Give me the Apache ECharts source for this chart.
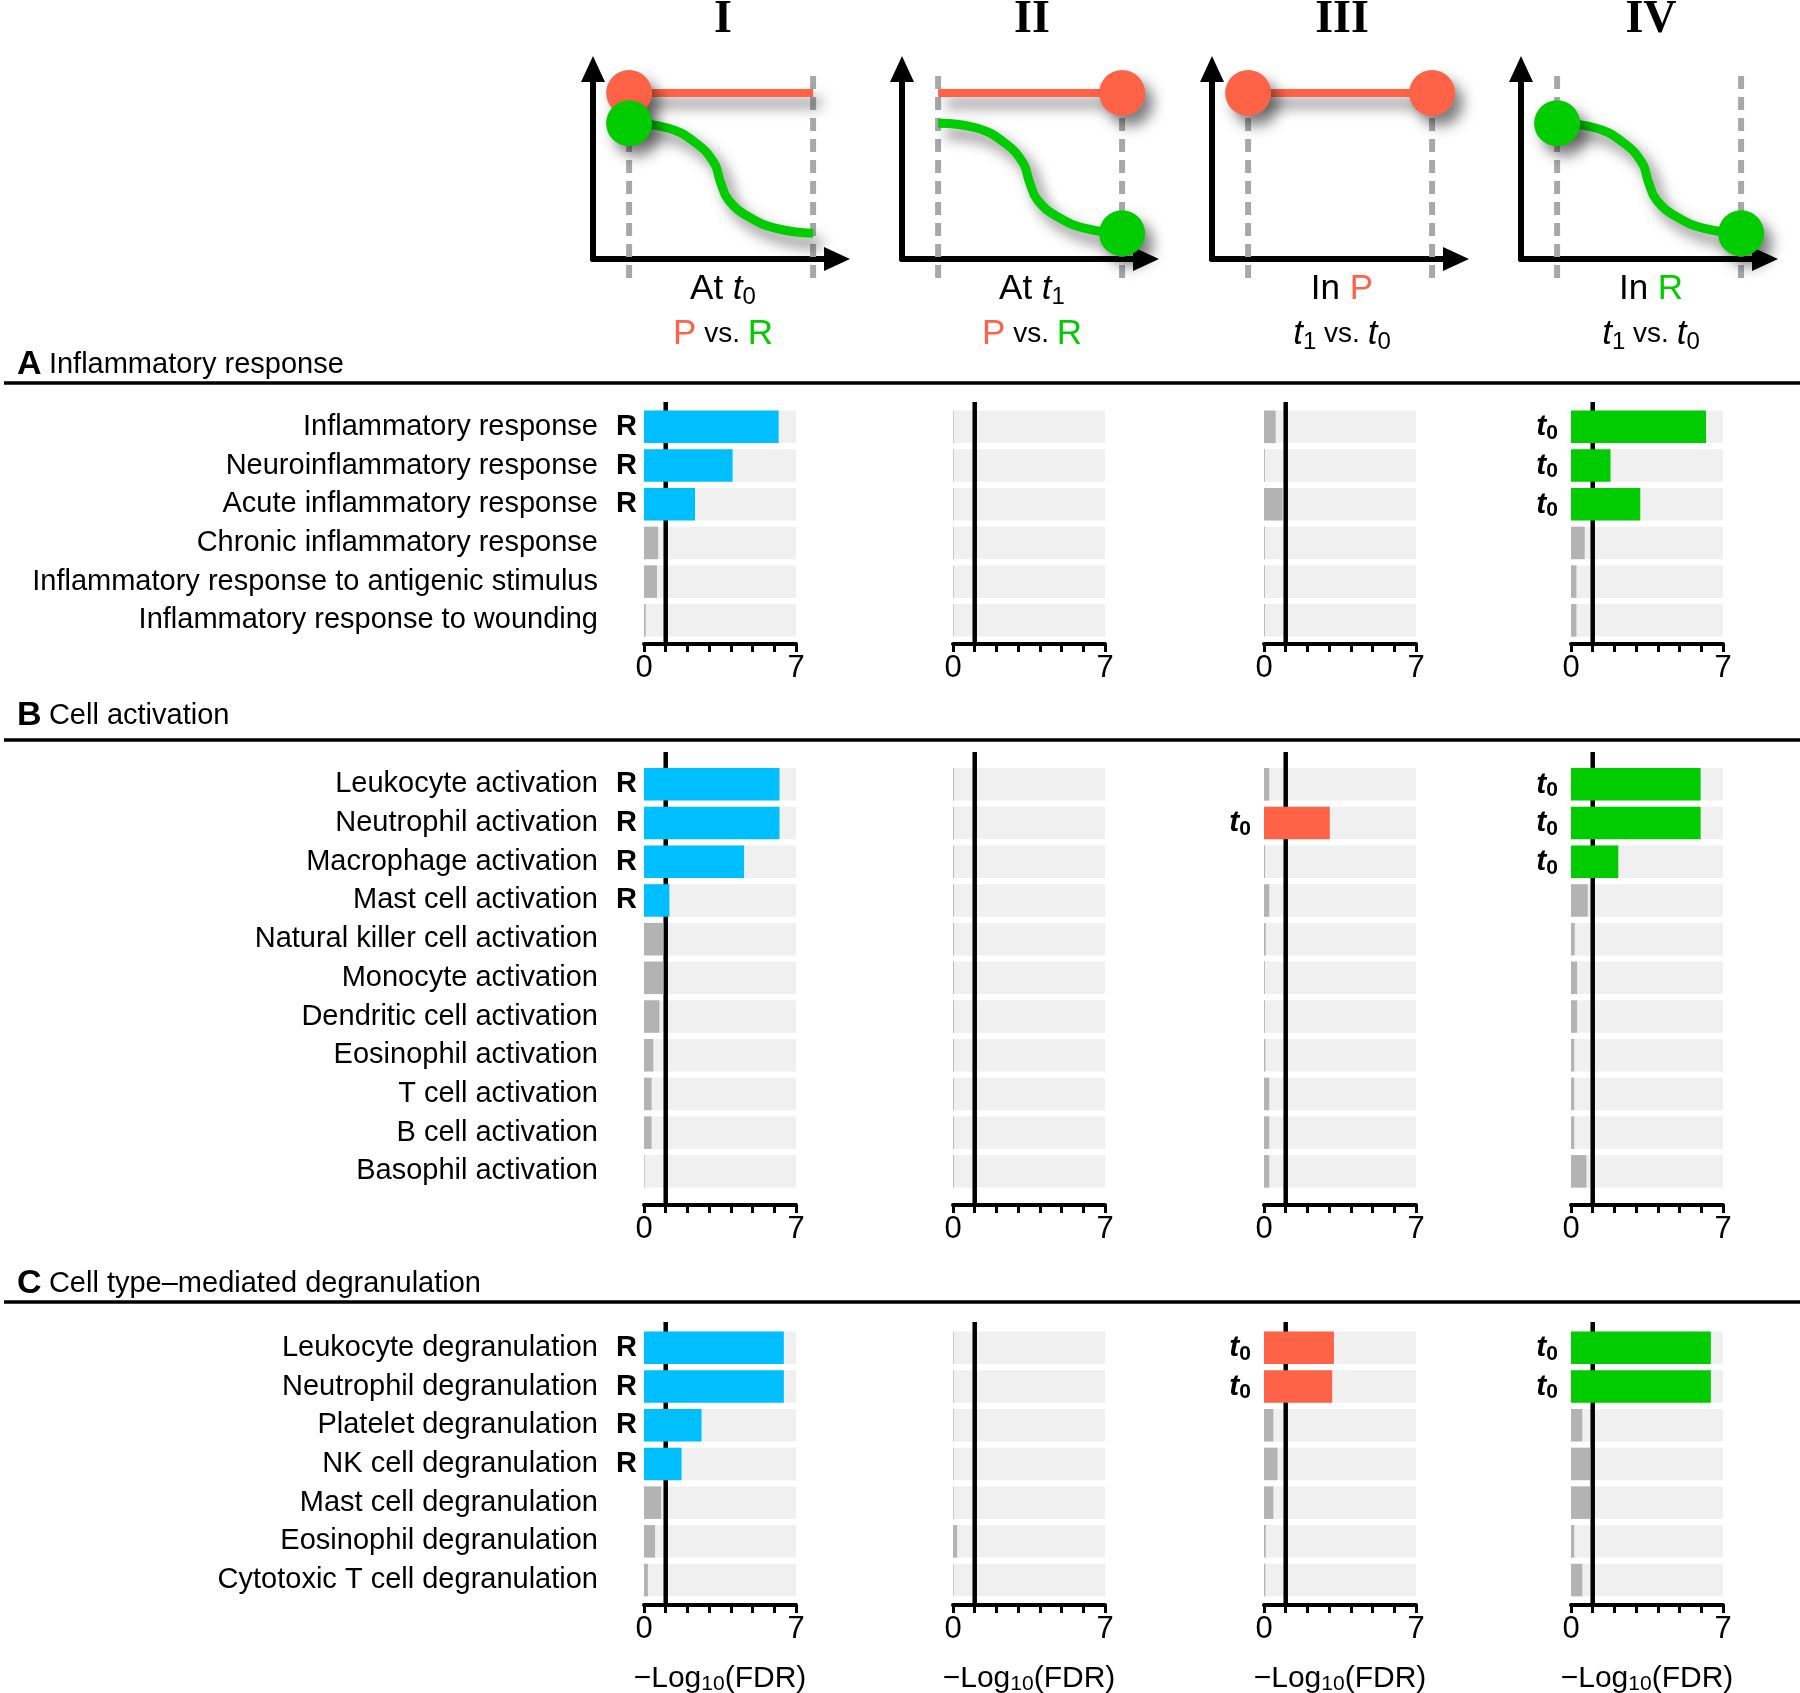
<!DOCTYPE html>
<html>
<head>
<meta charset="utf-8">
<script src="https://cdn.jsdelivr.net/npm/echarts@6/dist/echarts.min.js"></script>
<style>
html, body { margin: 0; padding: 0; background: #fff; }
#chart { width: 1800px; height: 1693px; }
</style>
</head>
<body>
<div id="chart"></div>
<script>
// GO terms per block
var termsA = ['Inflammatory response', 'Neuroinflammatory response', 'Acute inflammatory response',
  'Chronic inflammatory response', 'Inflammatory response to antigenic stimulus', 'Inflammatory response to wounding'];
var termsB = ['Leukocyte activation', 'Neutrophil activation', 'Macrophage activation', 'Mast cell activation',
  'Natural killer cell activation', 'Monocyte activation', 'Dendritic cell activation', 'Eosinophil activation',
  'T cell activation', 'B cell activation', 'Basophil activation'];
var termsC = ['Leukocyte degranulation', 'Neutrophil degranulation', 'Platelet degranulation', 'NK cell degranulation',
  'Mast cell degranulation', 'Eosinophil degranulation', 'Cytotoxic T cell degranulation'];

// -log10(FDR), columns I..IV
var A_I   = [6.2, 4.08, 2.35, 0.65, 0.6, 0.08];
var A_II  = [0.03, 0.03, 0.03, 0.03, 0.03, 0.03];
var A_III = [0.54, 0.04, 0.86, 0.04, 0.04, 0.04];
var A_IV  = [6.22, 1.82, 3.19, 0.63, 0.25, 0.25];

var B_I   = [6.24, 6.24, 4.61, 1.17, 0.89, 0.89, 0.71, 0.43, 0.35, 0.35, 0.03];
var B_II  = [0.04, 0.04, 0.04, 0.04, 0.04, 0.04, 0.04, 0.04, 0.04, 0.04, 0.04];
var B_III = [0.24, 3.03, 0.05, 0.24, 0.08, 0.04, 0.04, 0.06, 0.24, 0.24, 0.24];
var B_IV  = [5.97, 5.97, 2.18, 0.77, 0.17, 0.28, 0.28, 0.15, 0.15, 0.15, 0.71];

var C_I   = [6.44, 6.44, 2.65, 1.73, 0.79, 0.51, 0.18];
var C_II  = [0.03, 0.03, 0.03, 0.03, 0.03, 0.19, 0.03];
var C_III = [3.22, 3.14, 0.43, 0.62, 0.43, 0.08, 0.06];
var C_IV  = [6.44, 6.44, 0.52, 0.89, 0.89, 0.15, 0.52];

var axisTicks = [0, 7];
var FDR_CUT = 1;   // significance line

// schematic curves (unitless)
var schemeDashX = [0.148, 0.902];
var schemeDashY = [0.963, -0.126];
var redLevel = 0.874;
var greenCurve = [[0.148, 0.714], [0.309, 0.688], [0.423, 0.609], [0.497, 0.504], [0.522, 0.407],
  [0.555, 0.311], [0.637, 0.223], [0.751, 0.161], [0.902, 0.135]];

var FONT = '"Liberation Sans", Arial, sans-serif';
var RED = '#ff6347', GREEN = '#00cc00', BLUE = '#00bfff', GRAY = '#b3b3b3', BG = '#f0f0f0';
var PITCH = 38.7;
var colLeft = [644, 953, 1264, 1571];
var colWidth = 152;
var colColor = [BLUE, BLUE, RED, GREEN];
var sigLabel = ['R', '', '{t|t}{s|0}', '{t|t}{s|0}'];

var blocks = [
  {terms: termsA, vals: [A_I, A_II, A_III, A_IV], barTop: 407.5, axisTop: 402, axisBottom: 644},
  {terms: termsB, vals: [B_I, B_II, B_III, B_IV], barTop: 765, axisTop: 752, axisBottom: 1205},
  {terms: termsC, vals: [C_I, C_II, C_III, C_IV], barTop: 1328.5, axisTop: 1322, axisBottom: 1605, last: true}
];

var grid = [], xAxis = [], yAxis = [], series = [];

blocks.forEach(function (b) {
  for (var c = 0; c < 4; c++) {
    var g = grid.length;
    grid.push({left: colLeft[c], top: b.barTop, width: colWidth, height: b.terms.length * PITCH, outerBoundsMode: 'none'});
    xAxis.push({gridIndex: g, type: 'value', min: axisTicks[0], max: axisTicks[1], show: false});
    yAxis.push({
      gridIndex: g, type: 'category', inverse: true, data: b.terms, show: c === 0,
      axisLine: {show: false}, axisTick: {show: false}, splitLine: {show: false},
      axisLabel: {fontSize: 29, color: '#000', fontFamily: FONT, margin: 46}
    });
    // light background track
    series.push({
      type: 'bar', xAxisIndex: g, yAxisIndex: g, silent: true, animation: false, z: 1,
      data: b.terms.map(function () { return axisTicks[1]; }),
      barCategoryGap: '16%', barGap: '-100%', itemStyle: {color: BG}
    });
    series.push({
      type: 'bar', xAxisIndex: g, yAxisIndex: g, animation: false, z: 3,
      barCategoryGap: '16%', barGap: '-100%',
      data: b.vals[c].map(function (v) {
        return {value: v, itemStyle: {color: v > FDR_CUT ? colColor[c] : GRAY}};
      }),
      label: {
        show: true, position: 'left', distance: c === 0 ? 7 : 13,
        color: '#000', fontFamily: FONT, fontSize: 29, fontWeight: 'bold',
        formatter: (function (cc) {
          return function (p) { return p.value > FDR_CUT ? sigLabel[cc] : ''; };
        })(c),
        rich: {
          t: {fontSize: 30, fontWeight: 'bold', fontStyle: 'italic', fontFamily: FONT, color: '#000'},
          s: {fontSize: 21, fontWeight: 'bold', fontFamily: FONT, color: '#000', padding: [12, 0, 0, 0]}
        }
      }
    });

    // axis + threshold line
    var a = grid.length;
    grid.push({left: colLeft[c], top: b.axisTop, width: colWidth, height: b.axisBottom - b.axisTop, outerBoundsMode: 'none'});
    xAxis.push({
      gridIndex: a, type: 'value', min: axisTicks[0], max: axisTicks[1], interval: 1,
      axisLine: {show: true, onZero: false, lineStyle: {color: '#000', width: 4}},
      axisTick: {show: true, inside: false, length: 8, lineStyle: {color: '#000', width: 3}},
      splitLine: {show: false},
      axisLabel: {
        fontSize: 31, color: '#000', fontFamily: FONT, margin: 9,
        formatter: function (v) { return axisTicks.indexOf(v) >= 0 ? String(v) : ''; }
      },
      name: b.last ? '{m|\u2212Log}{s|10}{m|(FDR)}' : '',
      nameLocation: 'middle', nameGap: 57,
      nameTextStyle: {
        rich: {
          m: {fontSize: 30, color: '#000', fontFamily: FONT},
          s: {fontSize: 21, color: '#000', fontFamily: FONT, padding: [12, 0, 0, 0]}
        }
      }
    });
    yAxis.push({gridIndex: a, type: 'value', min: 0, max: 1, show: false});
    series.push({
      type: 'line', xAxisIndex: a, yAxisIndex: a, silent: true, animation: false, z: 2,
      data: [[FDR_CUT, 0], [FDR_CUT, 1]], symbol: 'none',
      lineStyle: {color: '#000', width: 4.5}
    });
  }
});

// schematics above the columns
var schemeLeft = [593, 902, 1212, 1521];
var schemeHasRed = [true, true, true, false];
var schemeHasGreen = [true, true, false, true];
var schemeDots = [[0], [1], [0, 1], [0, 1]];
var shadow = {shadowColor: 'rgba(0,0,0,0.5)', shadowBlur: 14, shadowOffsetX: 8, shadowOffsetY: 10};

schemeLeft.forEach(function (left, k) {
  var g = grid.length;
  grid.push({left: left, top: 69, width: 244, height: 190, outerBoundsMode: 'none'});
  var ax = {
    gridIndex: g, type: 'value', min: 0, max: 1,
    axisLine: {show: true, onZero: false, symbol: ['none', 'triangle'], symbolSize: [24, 26],
      lineStyle: {color: '#000', width: 6}},
    axisTick: {show: false}, axisLabel: {show: false}, splitLine: {show: false}
  };
  xAxis.push(ax);
  yAxis.push(Object.assign({}, ax));

  schemeDashX.forEach(function (dx) {
    series.push({
      type: 'line', xAxisIndex: g, yAxisIndex: g, silent: true, animation: false, clip: false, z: 1,
      symbol: 'none', data: [[dx, schemeDashY[0]], [dx, schemeDashY[1]]],
      lineStyle: {color: '#a8a8a8', width: 6, type: [13, 8]}
    });
  });
  if (schemeHasRed[k]) {
    series.push({
      type: 'line', xAxisIndex: g, yAxisIndex: g, silent: true, animation: false, clip: false, z: 2,
      symbol: 'none', data: [[schemeDashX[0], redLevel], [schemeDashX[1], redLevel]],
      lineStyle: Object.assign({color: RED, width: 8, cap: 'butt'}, shadow)
    });
    series.push({
      type: 'scatter', xAxisIndex: g, yAxisIndex: g, silent: true, animation: false, clip: false, z: 4,
      symbolSize: 46, data: schemeDots[k].map(function (i) { return [schemeDashX[i], redLevel]; }),
      itemStyle: Object.assign({color: RED, opacity: 1}, shadow)
    });
  }
  if (schemeHasGreen[k]) {
    series.push({
      type: 'line', xAxisIndex: g, yAxisIndex: g, silent: true, animation: false, clip: false, z: 3,
      symbol: 'none', smooth: 0.45, data: greenCurve,
      lineStyle: Object.assign({color: GREEN, width: 9, cap: 'butt'}, shadow)
    });
    series.push({
      type: 'scatter', xAxisIndex: g, yAxisIndex: g, silent: true, animation: false, clip: false, z: 5,
      symbolSize: 46,
      data: schemeDots[k].map(function (i) { return i === 0 ? greenCurve[0] : greenCurve[greenCurve.length - 1]; }),
      itemStyle: Object.assign({color: GREEN, opacity: 1}, shadow)
    });
  }
});

// texts and rules
var numerals = ['I', 'II', 'III', 'IV'];
var line1 = ['{n|At }{i|t}{s|0}', '{n|At }{i|t}{s|1}', '{n|In }{p|P}', '{n|In }{r|R}'];
var line2 = ['{p|P}{v| vs. }{r|R}', '{p|P}{v| vs. }{r|R}', '{i|t}{s|1}{v| vs. }{i|t}{s|0}', '{i|t}{s|1}{v| vs. }{i|t}{s|0}'];
var topRich = {
  n: {fontSize: 35, fontFamily: FONT, fill: '#000'},
  i: {fontSize: 35, fontFamily: FONT, fontStyle: 'italic', fill: '#000'},
  s: {fontSize: 24, fontFamily: FONT, fill: '#000', padding: [16, 0, 0, 0]},
  v: {fontSize: 28, fontFamily: FONT, fill: '#000'},
  p: {fontSize: 35, fontFamily: FONT, fill: RED},
  r: {fontSize: 35, fontFamily: FONT, fill: GREEN}
};
var graphic = [];
schemeLeft.forEach(function (left, k) {
  var cx = left + 130;
  graphic.push({type: 'text', silent: true, style: {text: numerals[k], x: cx, y: 20, align: 'center', verticalAlign: 'middle',
    fontSize: 46, fontWeight: 'bold', fontFamily: '"Liberation Serif", "Times New Roman", serif', fill: '#000'}});
  graphic.push({type: 'text', silent: true, style: {text: line1[k], x: cx, y: 289, align: 'center', verticalAlign: 'middle', rich: topRich}});
  graphic.push({type: 'text', silent: true, style: {text: line2[k], x: cx, y: 334, align: 'center', verticalAlign: 'middle', rich: topRich}});
});

var headers = [['A', 'Inflammatory response', 365, 383], ['B', 'Cell activation', 716, 740],
  ['C', 'Cell type\u2013mediated degranulation', 1284, 1302]];
headers.forEach(function (h) {
  graphic.push({type: 'text', silent: true, style: {
    text: '{b|' + h[0] + '} {r|' + h[1] + '}', x: 17, y: h[2], align: 'left', verticalAlign: 'middle',
    rich: {
      b: {fontSize: 34, fontWeight: 'bold', fontFamily: FONT, fill: '#000'},
      r: {fontSize: 29, fontFamily: FONT, fill: '#000', padding: [0, 0, 0, 4]}
    }
  }});
  graphic.push({type: 'line', silent: true, shape: {x1: 4, y1: h[3], x2: 1800, y2: h[3]},
    style: {stroke: '#000', lineWidth: 3.5}});
});

var chart = echarts.init(document.getElementById('chart'));
chart.setOption({
  backgroundColor: '#fff',
  animation: false,
  grid: grid,
  xAxis: xAxis,
  yAxis: yAxis,
  series: series,
  graphic: graphic
});
window.onresize = function () { chart.resize(); };
</script>
</body>
</html>
